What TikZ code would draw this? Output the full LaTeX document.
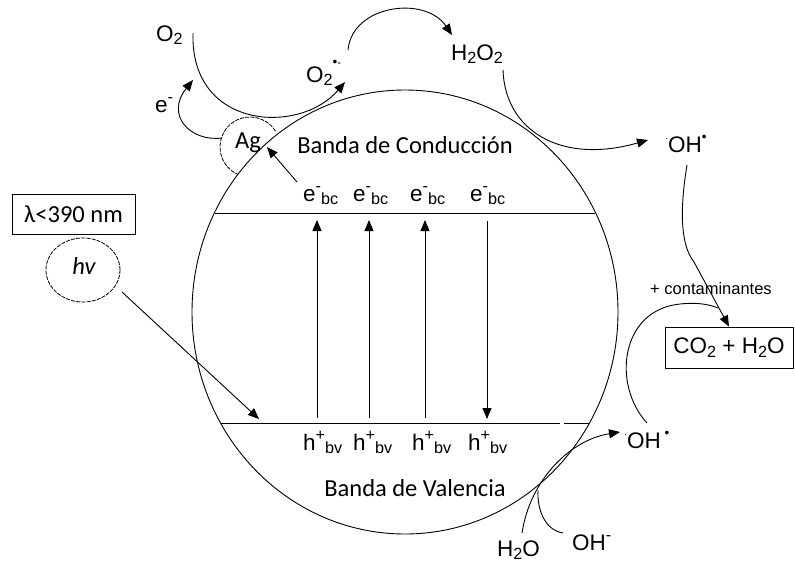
\documentclass[tikz,border=0pt]{standalone}
\usepackage{fontspec}
\setmainfont{Liberation Sans}
\newfontfamily\calfont{Carlito}
\usetikzlibrary{arrows.meta,shapes.geometric}
\newcommand\mydn[1]{\raisebox{-0.3ex}{\scalebox{0.72}{#1}}}
\newcommand\myup[1]{\raisebox{0.8ex}{\scalebox{0.72}{#1}}}
\begin{document}
\begin{tikzpicture}[x=1pt,y=-1pt,
  lab/.style={font=\fontsize{22.5}{26}\selectfont, inner sep=0pt},
  cal/.style={font=\calfont\fontsize{24.5}{28}\selectfont, inner sep=0pt},
  ln/.style={line width=0.9pt},
  arr/.style={ln,-{Triangle[length=11pt,width=9pt]}},
  dsh/.style={line width=0.8pt, dash pattern=on 4pt off 1.2pt}]
\useasboundingbox (0,0) rectangle (795,565);

% main particle
\draw[ln] (405,312) ellipse [x radius=213, y radius=222];
\coordinate (cbL) at (215,213); \coordinate (cbR) at (595,213);
\coordinate (vbL) at (221,423); \coordinate (vbR) at (589,423);
\coordinate (vbG1) at (560,423); \coordinate (vbG2) at (564,423);
\draw[ln] (cbL) -- (cbR);
\draw[ln] (vbL) -- (vbG1) (vbG2) -- (vbR);

\node[cal] (cond) at (405,145) {Banda de Conducción};
\node[cal] (val) at (415,488) {Banda de Valencia};

% electrons
\node[lab, anchor=base west] (e1) at (303,201) {e\myup{-}\mydn{bc}};
\node[lab, anchor=base west] (e2) at (353,201) {e\myup{-}\mydn{bc}};
\node[lab, anchor=base west] (e3) at (410,201) {e\myup{-}\mydn{bc}};
\node[lab, anchor=base west] (e4) at (470,201) {e\myup{-}\mydn{bc}};
% holes
\node[lab, anchor=base west] (h1) at (303,450) {h\myup{+}\mydn{bv}};
\node[lab, anchor=base west] (h2) at (353,450) {h\myup{+}\mydn{bv}};
\node[lab, anchor=base west] (h3) at (412,450) {h\myup{+}\mydn{bv}};
\node[lab, anchor=base west] (h4) at (468,450) {h\myup{+}\mydn{bv}};

% transitions
\coordinate (u1a) at (317,418); \coordinate (u1b) at (317,220);
\coordinate (u2a) at (369,418); \coordinate (u2b) at (369,220);
\coordinate (u3a) at (425,418); \coordinate (u3b) at (425,220);
\coordinate (d4a) at (487,221); \coordinate (d4b) at (487,419);
\draw[arr] (u1a) -- (u1b);
\draw[arr] (u2a) -- (u2b);
\draw[arr] (u3a) -- (u3b);
\draw[arr] (d4a) -- (d4b);

% light
\node[draw, ln, cal, minimum width=123pt, minimum height=40pt] (lam) at (73.5,214) {λ<390 nm};
\node[ellipse, draw, dsh, minimum width=74pt, minimum height=64pt, inner sep=0pt] (hv) at (83,270) {};
\node[cal, font=\calfont\itshape\fontsize{24.5}{28}\selectfont] (hvt) at (84,266) {hv};
\coordinate (hvE) at (122,292); \coordinate (hvT) at (259,419);
\draw[arr] (hvE) -- (hvT);

% silver
\draw[dsh] (250,147) ++(-32:30) arc[start angle=-32, end angle=-246, radius=30];
\node[cal] (ag) at (248,143) {Ag};
\coordinate (agA) at (297,182); \coordinate (agB) at (267,147);
\draw[arr] (agA) -- (agB);

% oxygen side
\node[lab, anchor=base west] (o2) at (156,41) {O\mydn{2}};
\node[lab, anchor=base west] (em) at (155,112) {e\myup{-}};
\node[lab, anchor=base west] (o2r) at (306,82) {O\mydn{2}\raisebox{1.3ex}{\scalebox{0.6}{•}}\raisebox{1.3ex}{\scalebox{0.5}{-}}};
\node[lab, anchor=base west] (h2o2) at (451,60) {H\mydn{2}O\mydn{2}};
\node[lab, anchor=base west] (oh1) at (665,152) {\raisebox{0.9ex}{\scalebox{0.4}{·}}OH\raisebox{0.9ex}{\scalebox{0.6}{•}}};

\coordinate (c1a) at (193,33); \coordinate (c1b) at (345,82);
\draw[arr] (c1a) .. controls (190,130) and (300,135) .. (c1b);
\coordinate (c2a) at (222,138); \coordinate (c2b) at (193,80);
\draw[arr] (c2a) .. controls (190,142) and (165,115) .. (c2b);
\coordinate (c3a) at (348,50); \coordinate (c3b) at (452,35);
\draw[arr] (c3a) .. controls (352,5) and (425,-5) .. (c3b);
\coordinate (c4a) at (503,70); \coordinate (c4b) at (648,140);
\draw[arr] (c4a) .. controls (505,130) and (560,165) .. (c4b);

% degradation
\node[lab, font=\fontsize{16.5}{19}\selectfont] (cont) at (711,289) {+ contaminantes};
\node[draw, ln, lab, minimum width=128pt, minimum height=41pt] (co2) at (729,347.5) {CO\mydn{2} + H\mydn{2}O};
\coordinate (c5a) at (687,165);
\draw[arr] (c5a) .. controls (678,220) and (683,248) .. (694,262) -- (co2.north);

% hydroxyl from valence band
\node[lab, anchor=base west] (oh2) at (624,448) {\raisebox{0.9ex}{\scalebox{0.4}{·}}OH\,\raisebox{0.9ex}{\scalebox{0.6}{•}}};
\node[lab, anchor=base west] (h2o) at (497,556) {H\mydn{2}O};
\node[lab, anchor=base west] (ohm) at (572,550) {OH\myup{-}};
\coordinate (c6a) at (522,533); \coordinate (c6b) at (620,432);
\draw[arr] (c6a) .. controls (530,480) and (570,440) .. (c6b);
\coordinate (c7a) at (563,533); \coordinate (c7b) at (538,490);
\draw[ln] (c7a) .. controls (545,530) and (537,510) .. (c7b);
\coordinate (c8a) at (647,423); \coordinate (c8b) at (718,308);
\draw[ln] (c8a) .. controls (612,385) and (620,310) .. (680,304) .. controls (700,302) and (710,305) .. (c8b);
\end{tikzpicture}
\end{document}
